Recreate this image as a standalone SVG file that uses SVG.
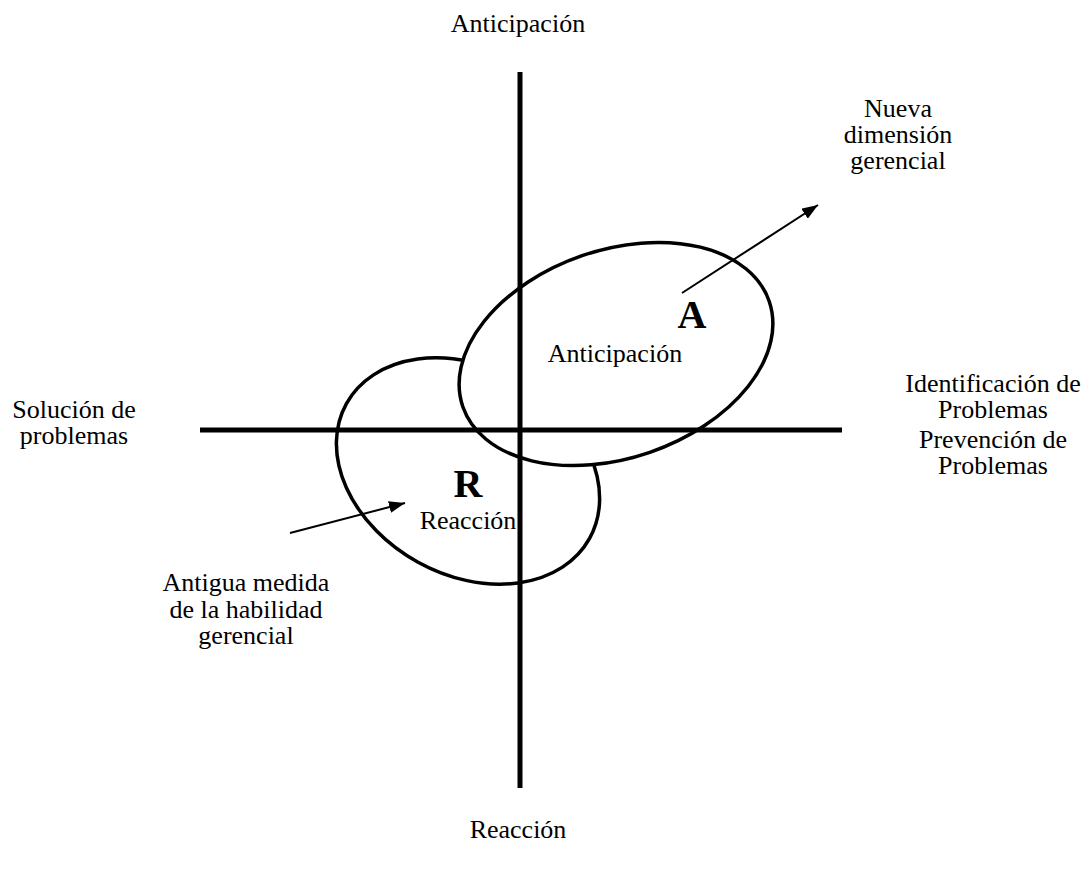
<svg xmlns="http://www.w3.org/2000/svg" width="1089" height="871" viewBox="0 0 1089 871">
<style>
text{font-family:"Liberation Serif","Times New Roman",serif;font-size:26px;fill:#000;text-anchor:middle}
.big{font-size:40px;font-weight:bold}
.ell{stroke:#000;stroke-width:3.5}
.axis{stroke:#000;stroke-width:5;fill:none}
.arr{stroke:#000;stroke-width:2;fill:none}
</style>
<defs>
<marker id="ah" viewBox="0 0 10 10" refX="10" refY="5" markerWidth="16" markerHeight="12" markerUnits="userSpaceOnUse" orient="auto" preserveAspectRatio="none">
<path d="M0,0 L10,5 L0,10 z" fill="#000"/>
</marker>
</defs>
<rect width="1089" height="871" fill="#fff"/>
<g id="node-R">
<ellipse class="ell" cx="468" cy="471" rx="139" ry="104" fill="none" transform="rotate(29 468 471)"/>
</g>
<g id="node-A">
<ellipse class="ell" cx="616" cy="354" rx="162" ry="104" fill="#fff" transform="rotate(-19 616 354)"/>
</g>
<g id="axes">
<line class="axis" x1="520" y1="72" x2="520" y2="788"/>
<line class="axis" x1="200" y1="430" x2="842" y2="430"/>
</g>
<g id="connectors">
<line class="arr" x1="682" y1="293" x2="818" y2="205" marker-end="url(#ah)"/>
<line class="arr" x1="290" y1="533" x2="405" y2="503" marker-end="url(#ah)"/>
</g>
<g id="labels">
<text x="518" y="32">Anticipación</text>
<text x="518" y="838">Reacción</text>
<text x="898" y="117">Nueva</text>
<text x="898" y="143">dimensión</text>
<text x="898" y="169">gerencial</text>
<text x="74" y="418">Solución de</text>
<text x="74" y="444">problemas</text>
<text x="993" y="392">Identificación de</text>
<text x="993" y="418">Problemas</text>
<text x="993" y="448">Prevención de</text>
<text x="993" y="474">Problemas</text>
<text x="246" y="591">Antigua medida</text>
<text x="246" y="618">de la habilidad</text>
<text x="246" y="644">gerencial</text>
<text class="big" x="692" y="328">A</text>
<text x="615" y="362">Anticipación</text>
<text class="big" x="468" y="497">R</text>
<text x="468" y="529">Reacción</text>
</g>
</svg>
